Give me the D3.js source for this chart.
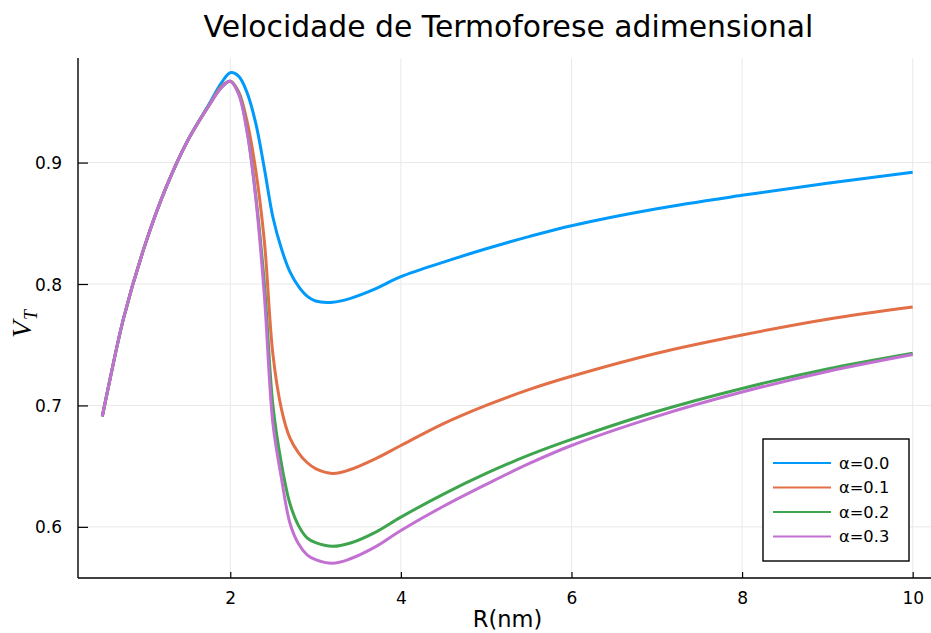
<!DOCTYPE html>
<html>
<head>
<meta charset="utf-8">
<script src="https://cdn.jsdelivr.net/npm/d3@7/dist/d3.min.js"></script>
<style>
  html, body { margin: 0; padding: 0; background: #fff; }
  svg { display: block; font-family: "DejaVu Sans", sans-serif; }
</style>
</head>
<body>
<svg id="chart" width="931" height="633"></svg>
<script>
// Radius grid (nm) shared by all series
const radius = [0.5, 0.55, 0.75, 1.0, 1.25, 1.5, 1.75, 1.9, 2.0, 2.1, 2.2, 2.3, 2.4, 2.5, 2.6, 2.7, 2.8, 2.9, 3.0, 3.2, 3.4, 3.7, 4.0, 4.5, 5.0, 5.5, 6.0, 7.0, 8.0, 9.0, 10.0];

// Dimensionless thermophoretic velocity for each accommodation coefficient
const vtAlpha00 = [0.691, 0.708, 0.772, 0.832, 0.880, 0.918, 0.948, 0.966, 0.974, 0.971, 0.957, 0.932, 0.895, 0.855, 0.829, 0.810, 0.798, 0.790, 0.786, 0.785, 0.788, 0.796, 0.806, 0.818, 0.829, 0.839, 0.848, 0.862, 0.873, 0.883, 0.892];
const vtAlpha01 = [0.691, 0.708, 0.772, 0.832, 0.880, 0.918, 0.947, 0.963, 0.967, 0.958, 0.933, 0.893, 0.835, 0.742, 0.697, 0.673, 0.661, 0.653, 0.648, 0.644, 0.647, 0.656, 0.667, 0.685, 0.700, 0.713, 0.724, 0.743, 0.758, 0.771, 0.781];
const vtAlpha02 = [0.691, 0.708, 0.772, 0.832, 0.880, 0.918, 0.947, 0.962, 0.967, 0.957, 0.925, 0.872, 0.800, 0.700, 0.652, 0.619, 0.601, 0.591, 0.587, 0.584, 0.5865, 0.5955, 0.608, 0.627, 0.644, 0.659, 0.672, 0.695, 0.714, 0.730, 0.743];
const vtAlpha03 = [0.691, 0.708, 0.772, 0.832, 0.880, 0.918, 0.947, 0.962, 0.967, 0.956, 0.924, 0.870, 0.790, 0.685, 0.640, 0.603, 0.586, 0.577, 0.573, 0.570, 0.5735, 0.5835, 0.597, 0.617, 0.635, 0.652, 0.667, 0.691, 0.711, 0.728, 0.742];

const seriesLabels = ["α=0.0", "α=0.1", "α=0.2", "α=0.3"];
const seriesColors = ["#009AFA", "#E36F47", "#3EA44E", "#C271D2"];

const xTicks = [2, 4, 6, 8, 10];
const yTicks = [0.6, 0.7, 0.8, 0.9];

const titleText = "Velocidade de Termoforese adimensional";
const xLabel = "R(nm)";

const seriesValues = [vtAlpha00, vtAlpha01, vtAlpha02, vtAlpha03];
const series = seriesValues.map((vals, i) => ({
  label: seriesLabels[i],
  color: seriesColors[i],
  points: radius.map((r, j) => ({ r, v: vals[j] }))
}));

const svg = d3.select("#chart");
const plot = { left: 78, right: 937, top: 58, bottom: 578 };

// Axis limits padded by 3% of the data span on each side
const allV = seriesValues.flat();
const xMin = d3.min(radius), xMax = d3.max(radius);
const yMin = d3.min(allV), yMax = d3.max(allV);
const xPad = (xMax - xMin) * 0.03, yPad = (yMax - yMin) * 0.03;

const x = d3.scaleLinear().domain([xMin - xPad, xMax + xPad]).range([plot.left, plot.right]);
const y = d3.scaleLinear().domain([yMin - yPad, yMax + yPad]).range([plot.bottom, plot.top]);

// Grid
const grid = svg.append("g").attr("stroke", "#e9e9e9").attr("stroke-width", 1);
grid.selectAll("line.vx").data(xTicks).join("line")
  .attr("x1", d => x(d)).attr("x2", d => x(d))
  .attr("y1", plot.top).attr("y2", plot.bottom);
grid.selectAll("line.hy").data(yTicks).join("line")
  .attr("x1", plot.left).attr("x2", plot.right)
  .attr("y1", d => y(d)).attr("y2", d => y(d));

// Axes
const xAxis = d3.axisBottom(x).tickValues(xTicks).tickSizeInner(-6).tickSizeOuter(0).tickPadding(14).tickFormat(d3.format("d"));
const yAxis = d3.axisLeft(y).tickValues(yTicks).tickSizeInner(-10).tickSizeOuter(0).tickPadding(16).tickFormat(d3.format(".1f"));

const gx = svg.append("g").attr("transform", `translate(0,${plot.bottom})`).call(xAxis);
const gy = svg.append("g").attr("transform", `translate(${plot.left},0)`).call(yAxis);
[gx, gy].forEach(g => {
  g.attr("font-size", null).attr("font-family", null);
  g.select(".domain").attr("stroke", "#000").attr("stroke-width", 1.4);
  g.selectAll(".tick line").attr("stroke", "#000").attr("stroke-width", 1.2);
  g.selectAll(".tick text").attr("fill", "#000").style("font-size", "17px").style("font-family", "DejaVu Sans, sans-serif");
});
gy.select(".domain").attr("d", `M0,${plot.bottom}V${plot.top}`);
gx.select(".domain").attr("d", `M${plot.left},0H${plot.right}`);
gy.selectAll(".tick text").attr("dy", "0.36em");

// Curves
const line = d3.line().x(d => x(d.r)).y(d => y(d.v)).curve(d3.curveCatmullRom.alpha(0.5));
svg.append("g").selectAll("path").data(series).join("path")
  .attr("d", d => line(d.points))
  .attr("fill", "none")
  .attr("stroke", d => d.color)
  .attr("stroke-width", 3)
  .attr("stroke-linejoin", "round");

// Title
svg.append("text")
  .attr("x", (plot.left + plot.right) / 2 + 1).attr("y", 37)
  .attr("text-anchor", "middle").attr("font-size", 29.8).attr("fill", "#000")
  .text(titleText);

// Axis labels
svg.append("text")
  .attr("x", (plot.left + plot.right) / 2).attr("y", 627)
  .attr("text-anchor", "middle").attr("font-size", 22.5).attr("fill", "#000")
  .text(xLabel);

const yl = svg.append("text")
  .attr("transform", `translate(31,${(plot.top + plot.bottom) / 2 + 20}) rotate(-90)`)
  .attr("font-family", "Liberation Serif, serif").attr("font-style", "italic")
  .attr("fill", "#000").attr("font-size", 28);
yl.append("tspan").text("V");
yl.append("tspan").attr("font-size", 18).attr("dy", 6).attr("dx", 1).text("T");

// Legend
const legend = svg.append("g");
legend.append("rect")
  .attr("x", 763).attr("y", 439).attr("width", 146).attr("height", 122)
  .attr("fill", "#fff").attr("stroke", "#000").attr("stroke-width", 1.4);
const rows = legend.selectAll("g.row").data(series).join("g")
  .attr("transform", (d, i) => `translate(0,${463 + i * 24.5})`);
rows.append("line").attr("x1", 773).attr("x2", 831).attr("y1", 0).attr("y2", 0)
  .attr("stroke", d => d.color).attr("stroke-width", 2);
rows.append("text").attr("x", 839).attr("y", 0).attr("dy", "0.35em")
  .attr("font-size", 16.3).attr("fill", "#000").text(d => d.label);
</script>
</body>
</html>
